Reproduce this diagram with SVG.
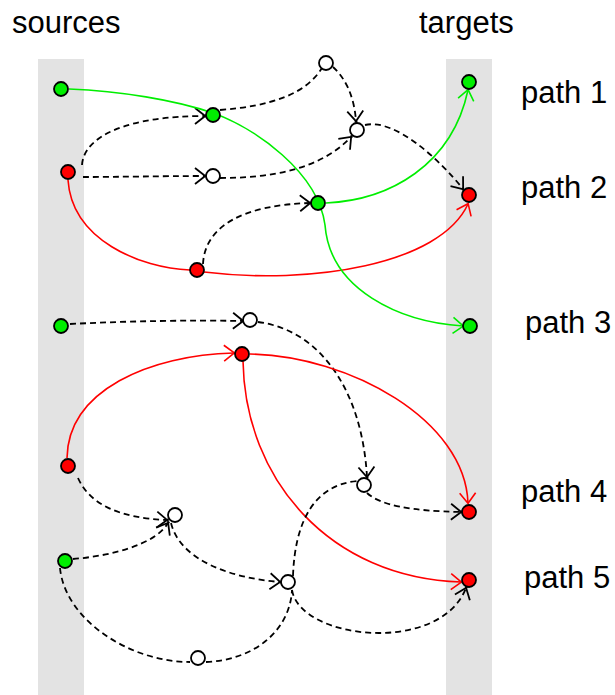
<svg xmlns="http://www.w3.org/2000/svg" width="615" height="695" viewBox="0 0 615 695">
<style>
.band{fill:#e3e3e3}
.lbl{font-family:"Liberation Sans",Arial,sans-serif;font-size:31px;fill:#000}
.d{fill:none;stroke:#000;stroke-width:1.8;stroke-dasharray:6,4}
.r{fill:none;stroke:#ff0000;stroke-width:1.6}
.g{fill:none;stroke:#00ee00;stroke-width:1.6}
.n{stroke:#000;stroke-width:1.8}
.w{fill:#fff}
.gn{fill:#00ee00}
.rn{fill:#ff0000}
</style>
<defs>
<marker id="ak" markerUnits="userSpaceOnUse" markerWidth="30" markerHeight="30" refX="0" refY="0" viewBox="-15 -15 30 30" orient="auto" overflow="visible">
<path d="M-10,-8 L1.5,1 M-10,8 L1.5,-1" fill="none" stroke="#000" stroke-width="1.8"/>
</marker>
<marker id="ar" markerUnits="userSpaceOnUse" markerWidth="30" markerHeight="30" refX="0" refY="0" viewBox="-15 -15 30 30" orient="auto" overflow="visible">
<path d="M-10,-8 L1,0.5 M-10,8 L1,-0.5" fill="none" stroke="#ff0000" stroke-width="1.6"/>
</marker>
<marker id="ag" markerUnits="userSpaceOnUse" markerWidth="30" markerHeight="30" refX="0" refY="0" viewBox="-15 -15 30 30" orient="auto" overflow="visible">
<path d="M-10,-8 L1,0.5 M-10,8 L1,-0.5" fill="none" stroke="#00ee00" stroke-width="1.6"/>
</marker>
</defs>
<rect class="band" x="38" y="59" width="46" height="636"/>
<rect class="band" x="446" y="59" width="46" height="636"/>
<text class="lbl" x="12" y="33">sources</text>
<text class="lbl" x="419" y="33">targets</text>
<text class="lbl" x="521" y="103">path 1</text>
<text class="lbl" x="521" y="198">path 2</text>
<text class="lbl" x="525" y="333">path 3</text>
<text class="lbl" x="521" y="502">path 4</text>
<text class="lbl" x="524" y="588">path 5</text>
<g id="connectors">
<path class="d" d="M82,165 C84,135 130,116 205,116" marker-end="url(#ak)"/>
<path class="d" d="M83,177 C120,177 160,176 205,176" marker-end="url(#ak)"/>
<path class="d" d="M220,110 C270,106 305,95 322,68"/>
<path class="d" d="M333,67 C345,78 354,95 356,121" marker-end="url(#ak)"/>
<path class="d" d="M220,178 C270,178 320,170 351,137" marker-end="url(#ak)"/>
<path class="d" d="M365,125 C395,118 440,160 463,189" marker-end="url(#ak)"/>
<path class="d" d="M203,264 C205,225 245,205 310,203" marker-end="url(#ak)"/>
<path class="r" d="M68,180 C72,240 140,268 190,270"/>
<path class="r" d="M204,272 C310,285 440,265 468,204" marker-end="url(#ar)"/>
<path class="g" d="M326,203 C390,200 452,165 468,90" marker-end="url(#ag)"/>
<path class="g" d="M69,89 C120,91 175,100 213,113 C255,128 318,172 325,225 C330,290 400,322 463,326" marker-end="url(#ag)"/>
<path class="d" d="M70,324 C130,321 190,320 243,321" marker-end="url(#ak)"/>
<path class="d" d="M258,322 C320,330 362,390 367,477" marker-end="url(#ak)"/>
<path class="r" d="M67,458 C68,390 150,355 234,353" marker-end="url(#ar)"/>
<path class="r" d="M250,354 C350,356 465,420 468,503" marker-end="url(#ar)"/>
<path class="r" d="M243,361 C245,480 330,578 461,582" marker-end="url(#ar)"/>
<path class="d" d="M78,478 C90,505 120,518 167,520" marker-end="url(#ak)"/>
<path class="d" d="M73,559 C110,556 155,545 168,523" marker-end="url(#ak)"/>
<path class="d" d="M171,523 C180,560 230,578 280,582" marker-end="url(#ak)"/>
<path class="d" d="M60,568 C65,620 130,662 190,662"/>
<path class="d" d="M206,662 C255,660 290,630 292,590"/>
<path class="d" d="M293,576 C295,520 315,485 357,481"/>
<path class="d" d="M367,493 C380,505 410,511 461,512" marker-end="url(#ak)"/>
<path class="d" d="M292,590 C300,640 440,655 466,588" marker-end="url(#ak)"/>
</g>
<g id="s1"><circle class="n gn" cx="61" cy="89" r="7"/></g>
<g id="s2"><circle class="n rn" cx="68" cy="172" r="7"/></g>
<g id="s3"><circle class="n gn" cx="61" cy="326" r="7"/></g>
<g id="s4"><circle class="n rn" cx="68" cy="466" r="7"/></g>
<g id="s5"><circle class="n gn" cx="65" cy="561" r="7"/></g>
<g id="t1"><circle class="n gn" cx="469" cy="82" r="7"/></g>
<g id="t2"><circle class="n rn" cx="469" cy="195" r="7"/></g>
<g id="t3"><circle class="n gn" cx="470" cy="326" r="7"/></g>
<g id="t4"><circle class="n rn" cx="469" cy="512" r="7"/></g>
<g id="t5"><circle class="n rn" cx="469" cy="580" r="7"/></g>
<g id="a"><circle class="n gn" cx="213" cy="115" r="7"/></g>
<g id="b"><circle class="n w" cx="213" cy="176" r="7"/></g>
<g id="c"><circle class="n w" cx="326" cy="63" r="7"/></g>
<g id="d"><circle class="n w" cx="357" cy="130" r="7"/></g>
<g id="e"><circle class="n gn" cx="318" cy="203" r="7"/></g>
<g id="f"><circle class="n rn" cx="197" cy="270" r="7"/></g>
<g id="g"><circle class="n w" cx="250" cy="320" r="7"/></g>
<g id="h"><circle class="n rn" cx="242" cy="354" r="7"/></g>
<g id="i"><circle class="n w" cx="364" cy="485" r="7"/></g>
<g id="j"><circle class="n w" cx="175" cy="515" r="7"/></g>
<g id="k"><circle class="n w" cx="288" cy="582" r="7"/></g>
<g id="l"><circle class="n w" cx="198" cy="658" r="7"/></g>
</svg>
